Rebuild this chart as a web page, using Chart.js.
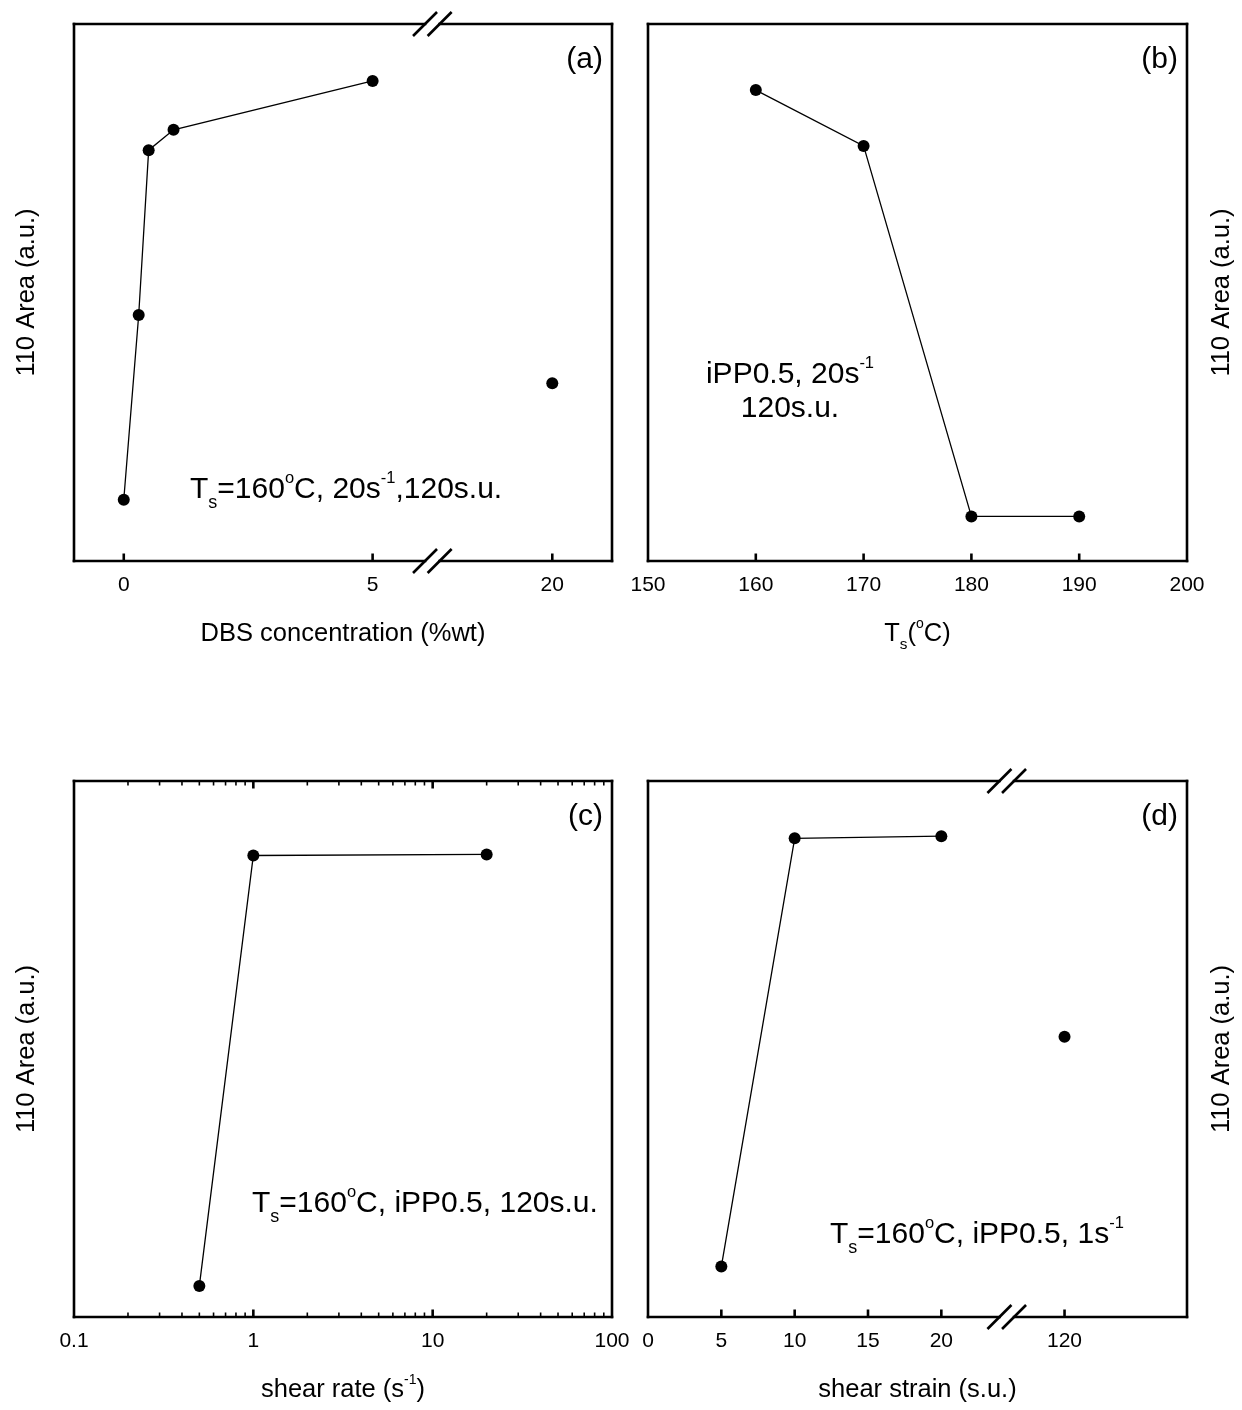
<!DOCTYPE html>
<html>
<head>
<meta charset="utf-8">
<title>110 Area vs. processing conditions</title>
<script src="https://cdn.jsdelivr.net/npm/chart.js@4.4.1/dist/chart.umd.min.js"></script>
<style>
  html, body { margin: 0; padding: 0; background: #fff; }
  #wrap { position: relative; width: 1242px; height: 1410px; background: #fff; }
  #wrap canvas { position: absolute; left: 0; top: 0; }
</style>
</head>
<body>
<div id="wrap">
  <canvas id="panelA" width="1242" height="1410"></canvas>
  <canvas id="panelB" width="1242" height="1410"></canvas>
  <canvas id="panelC" width="1242" height="1410"></canvas>
  <canvas id="panelD" width="1242" height="1410"></canvas>
</div>
<script>
// ---- data -------------------------------------------------------------
// (a) 110 area against DBS concentration
const dbsConc = [0, 0.3, 0.5, 1, 5];
const dbsArea = [11.4, 45.8, 76.5, 80.3, 89.4];
const dbsConcHigh = [20];
const dbsAreaHigh = [33.1];
const dbsTicks = [0, 5, 20];

// (b) 110 area against shear temperature
const shearTemp = [160, 170, 180, 190];
const tempArea = [87.7, 77.3, 8.3, 8.3];
const tempTicks = [150, 160, 170, 180, 190, 200];

// (c) 110 area against shear rate
const shearRate = [0.5, 1, 20];
const rateArea = [5.8, 86.1, 86.3];
const rateTicks = [0.1, 1, 10, 100];

// (d) 110 area against shear strain
const shearStrain = [5, 10, 20];
const strainArea = [9.4, 89.3, 89.7];
const strainHigh = [120];
const strainAreaHigh = [52.3];
const strainTicks = [0, 5, 10, 15, 20, 120];

// ---- shared styling ---------------------------------------------------
const FONT = '"Liberation Sans", Arial, Helvetica, sans-serif';
const INK = '#000';
const PAGE_W = 1242, PAGE_H = 1410;
const X_AXIS_H = 60;
const TICK_SIZE = 21, TITLE_SIZE = 25.5, NOTE_SIZE = 30;

// Linear axis with a cut: values between cutFrom and cutTo are removed
class BrokenLinearScale extends Chart.LinearScale {
  _axisPos(v) {
    const o = this.options;
    if (o.cutFrom == null) return v;
    if (v <= o.cutFrom) return v;
    if (v >= o.cutTo) return v - (o.cutTo - o.cutFrom);
    return o.cutFrom;
  }
  getPixelForValue(value) {
    const a = this._axisPos(this.min), b = this._axisPos(this.max);
    return this.getPixelForDecimal((this._axisPos(value) - a) / (b - a));
  }
  getValueForPixel(pixel) {
    const a = this._axisPos(this.min), b = this._axisPos(this.max);
    const p = a + this.getDecimalForPixel(pixel) * (b - a);
    const o = this.options;
    return (o.cutFrom == null || p <= o.cutFrom) ? p : p + (o.cutTo - o.cutFrom);
  }
}
BrokenLinearScale.id = 'brokenLinear';
BrokenLinearScale.defaults = Chart.LinearScale.defaults;
Chart.register(BrokenLinearScale);

const pts = (xs, ys) => xs.map((x, i) => ({ x: x, y: ys[i] }));

function series(xs, ys, withLine) {
  return {
    data: pts(xs, ys),
    showLine: withLine,
    borderColor: INK,
    borderWidth: 1.3,
    pointRadius: 6,
    pointBackgroundColor: INK,
    pointBorderWidth: 0,
    clip: false
  };
}

function xAxis(type, min, max, tickValues, labelFor, extra) {
  const cfg = {
    type: type,
    position: 'bottom',
    min: min,
    max: max,
    grid: { display: false, drawTicks: false },
    border: { display: false },
    ticks: {
      autoSkip: false, maxRotation: 0, minRotation: 0, padding: 11.8,
      color: INK, font: { family: FONT, size: TICK_SIZE },
      callback: labelFor
    },
    afterBuildTicks: (s) => { s.ticks = tickValues.map(v => ({ value: v, major: false })); },
    afterFit: (s) => { s.height = X_AXIS_H; }
  };
  return Object.assign(cfg, extra || {});
}

// ---- text with sub/superscripts --------------------------------------
function segFont(size) { return size + 'px ' + FONT; }
function pieces(segs, size) {
  return segs.map(s => {
    if (typeof s === 'string') return { t: s, size: size, dy: 0 };
    if (s.sub != null) return { t: s.sub, size: size * 0.6, dy: size * 0.33 };
    return { t: s.sup, size: size * 0.55, dy: -size * 0.5 };
  });
}
function drawRich(ctx, segs, x, y, size, align) {
  const ps = pieces(segs, size);
  let total = 0;
  ps.forEach(p => { ctx.font = segFont(p.size); p.w = ctx.measureText(p.t).width; total += p.w; });
  let cx = align === 'center' ? x - total / 2 : (align === 'right' ? x - total : x);
  ctx.textAlign = 'left';
  ctx.textBaseline = 'alphabetic';
  ps.forEach(p => { ctx.font = segFont(p.size); ctx.fillText(p.t, cx, y + p.dy); cx += p.w; });
}

// ---- frame, inward ticks, axis breaks, titles and notes ---------------
function decor(spec) {
  return {
    id: 'decor',
    afterDatasetsDraw(chart) {
      const ctx = chart.ctx;
      const a = chart.chartArea;
      const xs = chart.scales.x;
      ctx.save();
      ctx.strokeStyle = INK;
      ctx.fillStyle = INK;
      ctx.lineWidth = 2.6;
      ctx.lineCap = 'square';

      const cuts = [];
      if (spec.broken) cuts.push(xs.getPixelForValue(xs.options.cutFrom));
      const half = 7.3;

      const seg = (x1, y1, x2, y2) => { ctx.beginPath(); ctx.moveTo(x1, y1); ctx.lineTo(x2, y2); ctx.stroke(); };
      seg(a.left, a.top, a.left, a.bottom);
      seg(a.right, a.top, a.right, a.bottom);
      [a.top, a.bottom].forEach(y => {
        let start = a.left;
        cuts.forEach(c => { seg(start, y, c - half, y); start = c + half; });
        seg(start, y, a.right, y);
      });
      ctx.lineCap = 'butt';
      cuts.forEach(c => {
        [a.top, a.bottom].forEach(y => {
          [-half, half].forEach(dx => seg(c + dx - 12, y + 12, c + dx + 12, y - 12));
        });
      });

      // inward tick marks
      xs.ticks.forEach((t, i) => {
        const px = xs.getPixelForTick(i);
        if (px < a.left + 1.5 || px > a.right - 1.5) return;
        const major = spec.isMajor ? spec.isMajor(t.value) : true;
        const len = major ? 7.5 : 4.5;
        ctx.lineWidth = major ? 2.6 : 1.6;
        seg(px, a.bottom, px, a.bottom - len);
        if (spec.topTicks) seg(px, a.top, px, a.top + len);
      });

      // panel letter
      drawRich(ctx, [spec.letter], a.right - 9, a.top + 44, NOTE_SIZE, 'right');

      // notes inside the plot
      spec.notes.forEach(n => drawRich(ctx, n.segs, n.x, n.y, NOTE_SIZE, n.align));

      // x-axis title
      drawRich(ctx, spec.xTitle, (a.left + a.right) / 2, a.bottom + 80, TITLE_SIZE, 'center');

      // y-axis title, read bottom to top on either side
      const ty = (a.top + a.bottom) / 2;
      const tx = spec.yTitleSide === 'right' ? a.right + 42 : a.left - 40;
      ctx.save();
      ctx.translate(tx, ty);
      ctx.rotate(-Math.PI / 2);
      drawRich(ctx, ['110 Area (a.u.)'], 0, 0, TITLE_SIZE, 'center');
      ctx.restore();

      ctx.restore();
    }
  };
}

function makePanel(id, frame, xScale, datasets, spec) {
  return new Chart(document.getElementById(id), {
    type: 'scatter',
    data: { datasets: datasets },
    options: {
      responsive: false,
      animation: false,
      events: [],
      layout: {
        padding: {
          left: frame.left,
          top: frame.top,
          right: PAGE_W - frame.right,
          bottom: PAGE_H - frame.bottom - X_AXIS_H
        }
      },
      scales: {
        x: xScale,
        y: { type: 'linear', min: 0, max: 100, display: false }
      },
      plugins: { legend: { display: false }, tooltip: { enabled: false } }
    },
    plugins: [decor(spec)]
  });
}

const numLabel = (v) => String(v);

// (a)
makePanel('panelA', { left: 74, top: 24, right: 612, bottom: 561 },
  xAxis('brokenLinear', -1, 21.2, dbsTicks, numLabel, { cutFrom: 6.2, cutTo: 17.59 }),
  [series(dbsConc, dbsArea, true), series(dbsConcHigh, dbsAreaHigh, false)],
  {
    broken: true,
    letter: '(a)',
    notes: [{ segs: ['T', { sub: 's' }, '=160', { sup: 'o' }, 'C, 20s', { sup: '-1' }, ',120s.u.'], x: 190, y: 498, align: 'left' }],
    xTitle: ['DBS concentration (%wt)'],
    yTitleSide: 'left'
  });

// (b)
makePanel('panelB', { left: 648, top: 24, right: 1187, bottom: 561 },
  xAxis('linear', 150, 200, tempTicks, numLabel),
  [series(shearTemp, tempArea, true)],
  {
    letter: '(b)',
    notes: [
      { segs: ['iPP0.5, 20s', { sup: '-1' }], x: 790, y: 383, align: 'center' },
      { segs: ['120s.u.'], x: 790, y: 417, align: 'center' }
    ],
    xTitle: ['T', { sub: 's' }, '(', { sup: 'o' }, 'C)'],
    yTitleSide: 'right'
  });

// (c) logarithmic shear-rate axis with minor ticks on both edges
const logTickValues = [];
for (let e = -1; e <= 1; e++) {
  for (let m = 1; m <= 9; m++) logTickValues.push(Number((m * Math.pow(10, e)).toPrecision(3)));
}
logTickValues.push(100);
makePanel('panelC', { left: 74, top: 781, right: 612, bottom: 1317 },
  xAxis('logarithmic', 0.1, 100, logTickValues, (v) => rateTicks.includes(v) ? String(v) : ''),
  [series(shearRate, rateArea, true)],
  {
    letter: '(c)',
    topTicks: true,
    isMajor: (v) => rateTicks.includes(v),
    notes: [{ segs: ['T', { sub: 's' }, '=160', { sup: 'o' }, 'C, iPP0.5, 120s.u.'], x: 252, y: 1212, align: 'left' }],
    xTitle: ['shear rate (s', { sup: '-1' }, ')'],
    yTitleSide: 'left'
  });

// (d)
makePanel('panelD', { left: 648, top: 781, right: 1187, bottom: 1317 },
  xAxis('brokenLinear', 0, 128.35, strainTicks, numLabel, { cutFrom: 24.46, cutTo: 116.06 }),
  [series(shearStrain, strainArea, true), series(strainHigh, strainAreaHigh, false)],
  {
    broken: true,
    letter: '(d)',
    notes: [{ segs: ['T', { sub: 's' }, '=160', { sup: 'o' }, 'C, iPP0.5, 1s', { sup: '-1' }], x: 830, y: 1243, align: 'left' }],
    xTitle: ['shear strain (s.u.)'],
    yTitleSide: 'right'
  });
</script>
</body>
</html>
